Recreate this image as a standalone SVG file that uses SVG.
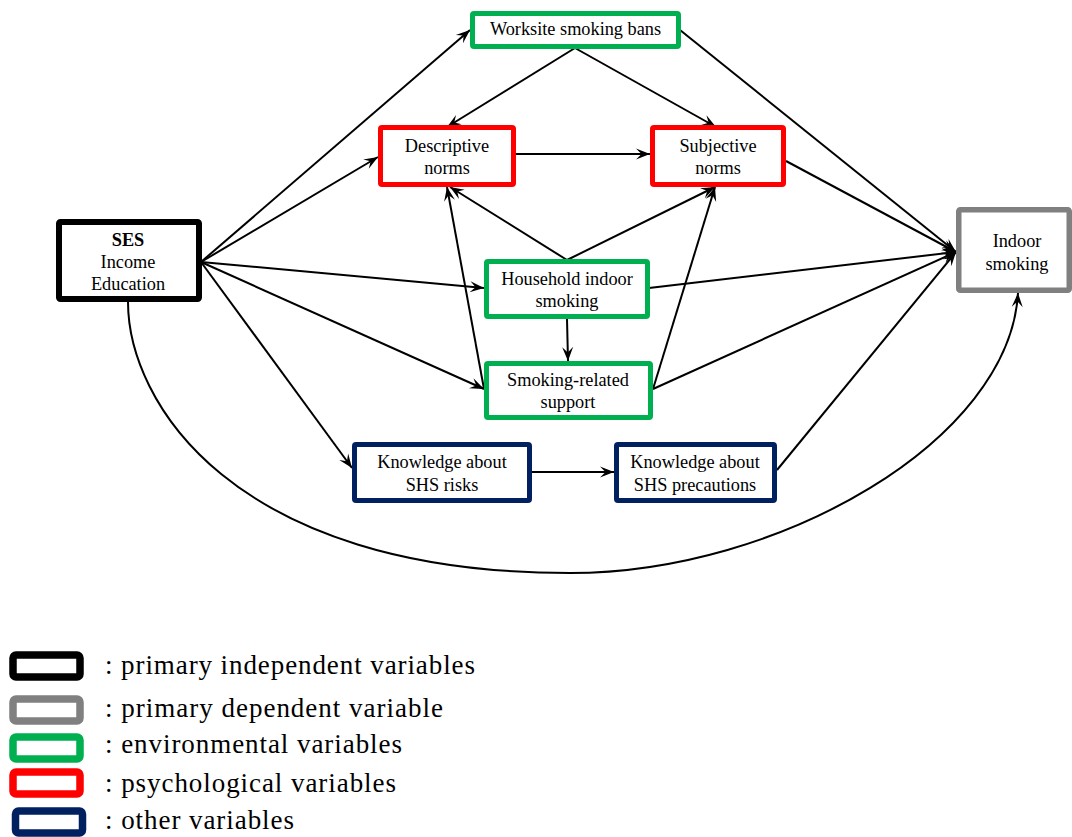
<svg xmlns="http://www.w3.org/2000/svg" width="1072" height="837" viewBox="0 0 1072 837">
<style>
.box{fill:#fff;stroke-width:5}
.blk{stroke:#000}
.gry{stroke:#808080}
.grn{stroke:#00B050}
.red{stroke:#FF0000}
.nvy{stroke:#002060}
.lbl{font-family:"Liberation Serif","Times New Roman",serif;font-size:18.3px;fill:#000;text-anchor:middle}
.edge{stroke:#000;stroke-width:2;fill:none;marker-end:url(#arr)}
.leg{fill:#fff;stroke-width:7.5}
.legt{font-family:"Liberation Serif","Times New Roman",serif;font-size:27px;fill:#000}
</style>
<defs>
<marker id="arr" markerUnits="userSpaceOnUse" markerWidth="16" markerHeight="14" refX="15" refY="7" orient="auto">
<path d="M1,1.5 L15,7 L1,12.5 L6.5,7 z" fill="#000"/>
</marker>
</defs>
<g id="connectors">
<line class="edge" x1="201" y1="262" x2="470" y2="30"/>
<line class="edge" x1="201" y1="262" x2="378" y2="157"/>
<line class="edge" x1="201" y1="262" x2="484" y2="288"/>
<line class="edge" x1="201" y1="262" x2="484" y2="389"/>
<line class="edge" x1="201" y1="262" x2="352" y2="468"/>
<line class="edge" x1="575" y1="48" x2="447" y2="127"/>
<line class="edge" x1="575" y1="48" x2="716" y2="127"/>
<line class="edge" x1="680" y1="30" x2="956" y2="252"/>
<line class="edge" x1="516" y1="154" x2="650" y2="154"/>
<line class="edge" x1="786" y1="161" x2="956" y2="252"/>
<line class="edge" x1="567" y1="260" x2="450" y2="187"/>
<line class="edge" x1="484" y1="389" x2="447" y2="187"/>
<line class="edge" x1="567" y1="260" x2="715" y2="187"/>
<line class="edge" x1="653" y1="389" x2="715" y2="187"/>
<line class="edge" x1="649" y1="288" x2="956" y2="252"/>
<line class="edge" x1="653" y1="389" x2="956" y2="252"/>
<line class="edge" x1="567" y1="319" x2="568" y2="361"/>
<line class="edge" x1="532" y1="472" x2="614" y2="472"/>
<line class="edge" x1="777" y1="470" x2="956" y2="252"/>
<path class="edge" d="M128,302 C128,400 230,573 570,573 C780,573 1010,440 1018,293"/>
</g>
<g id="node-worksite">
<rect class="box grn" x="472.5" y="13.5" width="206" height="33" rx="1.5"/>
<text class="lbl" x="575.5" y="35">Worksite smoking bans</text>
</g>
<g id="node-descriptive">
<rect class="box red" x="380.5" y="127.5" width="133" height="57" rx="1.5"/>
<text class="lbl" x="447" y="152">Descriptive</text>
<text class="lbl" x="447" y="174">norms</text>
</g>
<g id="node-subjective">
<rect class="box red" x="652.5" y="127.5" width="131" height="57" rx="1.5"/>
<text class="lbl" x="718" y="152">Subjective</text>
<text class="lbl" x="718" y="174">norms</text>
</g>
<g id="node-ses">
<rect class="box blk" x="59" y="222" width="140" height="77" rx="1.5" style="stroke-width:6"/>
<text class="lbl" x="128" y="246" font-weight="bold">SES</text>
<text class="lbl" x="128" y="268">Income</text>
<text class="lbl" x="128" y="290">Education</text>
</g>
<g id="node-indoor">
<rect class="box gry" x="958.75" y="209.75" width="110.5" height="80.5" rx="1.5" style="stroke-width:5.5"/>
<text class="lbl" x="1017" y="247">Indoor</text>
<text class="lbl" x="1017" y="270">smoking</text>
</g>
<g id="node-household">
<rect class="box grn" x="486.5" y="261.5" width="161" height="55" rx="1.5"/>
<text class="lbl" x="567" y="285">Household indoor</text>
<text class="lbl" x="567" y="307">smoking</text>
</g>
<g id="node-support">
<rect class="box grn" x="486.5" y="363.5" width="164" height="54" rx="1.5"/>
<text class="lbl" x="568" y="386">Smoking-related</text>
<text class="lbl" x="568" y="408">support</text>
</g>
<g id="node-risks">
<rect class="box nvy" x="354.5" y="444.5" width="175" height="56" rx="1.5"/>
<text class="lbl" x="442" y="468">Knowledge about</text>
<text class="lbl" x="442" y="491">SHS risks</text>
</g>
<g id="node-precautions">
<rect class="box nvy" x="616.5" y="444.5" width="158" height="56" rx="1.5"/>
<text class="lbl" x="695" y="468">Knowledge about</text>
<text class="lbl" x="695" y="491">SHS precautions</text>
</g>
<g id="legend">
<rect class="leg blk" x="13" y="655" width="67" height="22" rx="3"/>
<rect class="leg gry" x="13" y="699" width="67" height="22" rx="3"/>
<rect class="leg grn" x="13" y="737" width="67" height="22" rx="3"/>
<rect class="leg red" x="13" y="772" width="67" height="22" rx="3"/>
<rect class="leg nvy" x="15.5" y="811" width="67" height="22" rx="3"/>
<text class="legt" x="105" y="674" textLength="370" lengthAdjust="spacing">: primary independent variables</text>
<text class="legt" x="105" y="717" textLength="338" lengthAdjust="spacing">: primary dependent variable</text>
<text class="legt" x="105" y="753" textLength="297" lengthAdjust="spacing">: environmental variables</text>
<text class="legt" x="105" y="792" textLength="291" lengthAdjust="spacing">: psychological variables</text>
<text class="legt" x="105" y="829" textLength="189" lengthAdjust="spacing">: other variables</text>
</g>
</svg>
